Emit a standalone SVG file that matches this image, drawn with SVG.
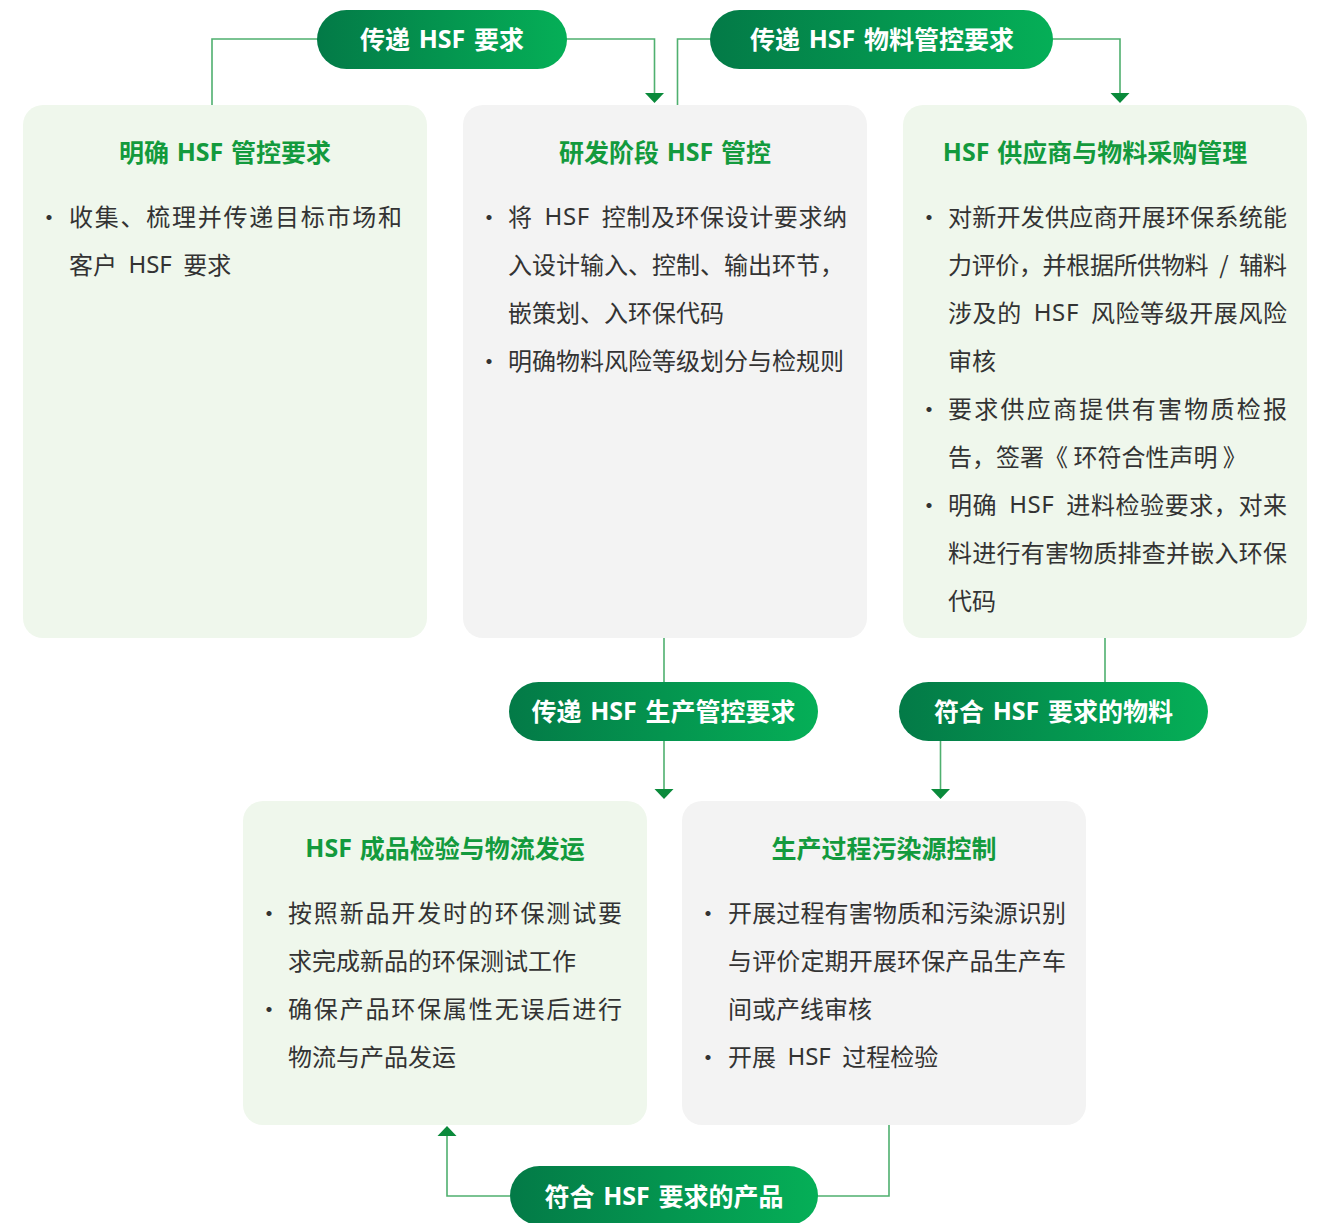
<svg xmlns="http://www.w3.org/2000/svg" width="1322" height="1223" viewBox="0 0 1322 1223">
<defs>
<linearGradient id="pg" x1="0" y1="0" x2="1" y2="0">
<stop offset="0" stop-color="#037a47"/>
<stop offset="1" stop-color="#05af57"/>
</linearGradient>
<style>
.bg{fill:#ffffff}
.lg{fill:#eff7ec}
.gr{fill:#f3f3f3}
.pill{fill:url(#pg)}
.pt{font-family:"Noto Sans CJK SC","Noto Sans",sans-serif;font-weight:700;font-size:25px;word-spacing:3px;fill:#ffffff;text-anchor:middle;dominant-baseline:central}
.tt{font-family:"Noto Sans CJK SC","Noto Sans",sans-serif;font-weight:700;font-size:25px;word-spacing:2px;fill:#139a3d;text-anchor:middle;dominant-baseline:central}
.bt{font-family:"Noto Sans CJK SC","Noto Sans",sans-serif;font-size:24px;word-spacing:6px;fill:#333333;dominant-baseline:central}
.ns{word-spacing:0}
.la{font-family:"Noto Sans","Noto Sans CJK SC",sans-serif}
.ln{fill:none;stroke:#4fb06f;stroke-width:1.6}
.ah{fill:#0a8a3b}
</style>
</defs>
<rect class="bg" x="0" y="0" width="1322" height="1223"/>
<g id="connectors">
<polyline class="ln" points="212,105 212,39 318,39"/>
<polyline class="ln" points="566,39 654.5,39 654.5,94"/>
<polygon class="ah" points="645,93 664,93 654.5,103"/>
<polyline class="ln" points="677.5,105 677.5,39 711,39"/>
<polyline class="ln" points="1052,39 1120,39 1120,94"/>
<polygon class="ah" points="1110.5,93 1129.5,93 1120,103"/>
<line class="ln" x1="664" y1="638" x2="664" y2="682"/>
<line class="ln" x1="664" y1="741" x2="664" y2="790"/>
<polygon class="ah" points="654.5,789 673.5,789 664,799"/>
<line class="ln" x1="1105" y1="638" x2="1105" y2="682"/>
<line class="ln" x1="940.5" y1="741" x2="940.5" y2="790"/>
<polygon class="ah" points="931,789 950,789 940.5,799"/>
<polyline class="ln" points="889,1125 889,1196 817,1196"/>
<polyline class="ln" points="510,1196 447,1196 447,1135"/>
<polygon class="ah" points="437.5,1136 456.5,1136 447,1126"/>
</g>
<g id="pill1"><rect class="pill" x="317" y="10" width="250" height="59" rx="29.5"/><text class="pt" x="442" y="38">传递 <tspan class="la">HSF</tspan> 要求</text></g>
<g id="pill2"><rect class="pill" x="710" y="10" width="343" height="59" rx="29.5"/><text class="pt" x="882" y="38">传递 <tspan class="la">HSF</tspan> 物料管控要求</text></g>
<g id="pill3"><rect class="pill" x="509" y="682" width="309" height="59" rx="29.5"/><text class="pt" x="663.5" y="710">传递 <tspan class="la">HSF</tspan> 生产管控要求</text></g>
<g id="pill4"><rect class="pill" x="899" y="682" width="309" height="59" rx="29.5"/><text class="pt" x="1053.5" y="710">符合 <tspan class="la">HSF</tspan> 要求的物料</text></g>
<g id="pill5"><rect class="pill" x="510" y="1166" width="308" height="59" rx="29.5"/><text class="pt" x="664" y="1194.5">符合 <tspan class="la">HSF</tspan> 要求的产品</text></g>
<g id="boxA">
<rect class="lg" x="23" y="105" width="404" height="533" rx="20"/>
<text class="tt" x="225" y="151">明确 <tspan class="la">HSF</tspan> 管控要求</text>
<text class="bt" x="37" y="215">·</text>
<text class="bt" x="69" y="215" textLength="333" lengthAdjust="spacing">收集、梳理并传递目标市场和</text>
<text class="bt" x="69" y="263">客户 <tspan class="la">HSF</tspan> 要求</text>
</g>
<g id="boxB">
<rect class="gr" x="463" y="105" width="404" height="533" rx="20"/>
<text class="tt" x="665" y="151">研发阶段 <tspan class="la">HSF</tspan> 管控</text>
<text class="bt" x="477" y="215">·</text>
<text class="bt" x="508" y="215" textLength="339" lengthAdjust="spacing">将 <tspan class="la">HSF</tspan> 控制及环保设计要求纳</text>
<text class="bt" x="508" y="263">入设计输入、控制、输出环节，</text>
<text class="bt" x="508" y="311">嵌策划、入环保代码</text>
<text class="bt" x="477" y="359">·</text>
<text class="bt" x="508" y="359">明确物料风险等级划分与检规则</text>
</g>
<g id="boxC">
<rect class="lg" x="903" y="105" width="404" height="533" rx="20"/>
<text class="tt" x="1095" y="151"><tspan class="la">HSF</tspan> 供应商与物料采购管理</text>
<text class="bt" x="917" y="215">·</text>
<text class="bt" x="948" y="215" textLength="339" lengthAdjust="spacing">对新开发供应商开展环保系统能</text>
<text class="bt" x="948" y="263" textLength="339" lengthAdjust="spacing">力评价，并根据所供物料 / 辅料</text>
<text class="bt" x="948" y="311" textLength="339" lengthAdjust="spacing">涉及的 <tspan class="la">HSF</tspan> 风险等级开展风险</text>
<text class="bt" x="948" y="359">审核</text>
<text class="bt" x="917" y="407">·</text>
<text class="bt" x="948" y="407" textLength="339" lengthAdjust="spacing">要求供应商提供有害物质检报</text>
<text class="bt ns" x="948" y="455">告，签署《 环符合性声明 》</text>
<text class="bt" x="917" y="503">·</text>
<text class="bt" x="948" y="503" textLength="339" lengthAdjust="spacing">明确 <tspan class="la">HSF</tspan> 进料检验要求，对来</text>
<text class="bt" x="948" y="551" textLength="339" lengthAdjust="spacing">料进行有害物质排查并嵌入环保</text>
<text class="bt" x="948" y="599">代码</text>
</g>
<g id="boxD">
<rect class="lg" x="243" y="801" width="404" height="324" rx="20"/>
<text class="tt" x="445" y="847"><tspan class="la">HSF</tspan> 成品检验与物流发运</text>
<text class="bt" x="257" y="911">·</text>
<text class="bt" x="288" y="911" textLength="334" lengthAdjust="spacing">按照新品开发时的环保测试要</text>
<text class="bt" x="288" y="959">求完成新品的环保测试工作</text>
<text class="bt" x="257" y="1007">·</text>
<text class="bt" x="288" y="1007" textLength="334" lengthAdjust="spacing">确保产品环保属性无误后进行</text>
<text class="bt" x="288" y="1055">物流与产品发运</text>
</g>
<g id="boxE">
<rect class="gr" x="682" y="801" width="404" height="324" rx="20"/>
<text class="tt" x="884" y="847">生产过程污染源控制</text>
<text class="bt" x="696" y="911">·</text>
<text class="bt" x="728" y="911" textLength="338" lengthAdjust="spacing">开展过程有害物质和污染源识别</text>
<text class="bt" x="728" y="959" textLength="338" lengthAdjust="spacing">与评价定期开展环保产品生产车</text>
<text class="bt" x="728" y="1007">间或产线审核</text>
<text class="bt" x="696" y="1055">·</text>
<text class="bt" x="728" y="1055">开展 <tspan class="la">HSF</tspan> 过程检验</text>
</g>
</svg>
